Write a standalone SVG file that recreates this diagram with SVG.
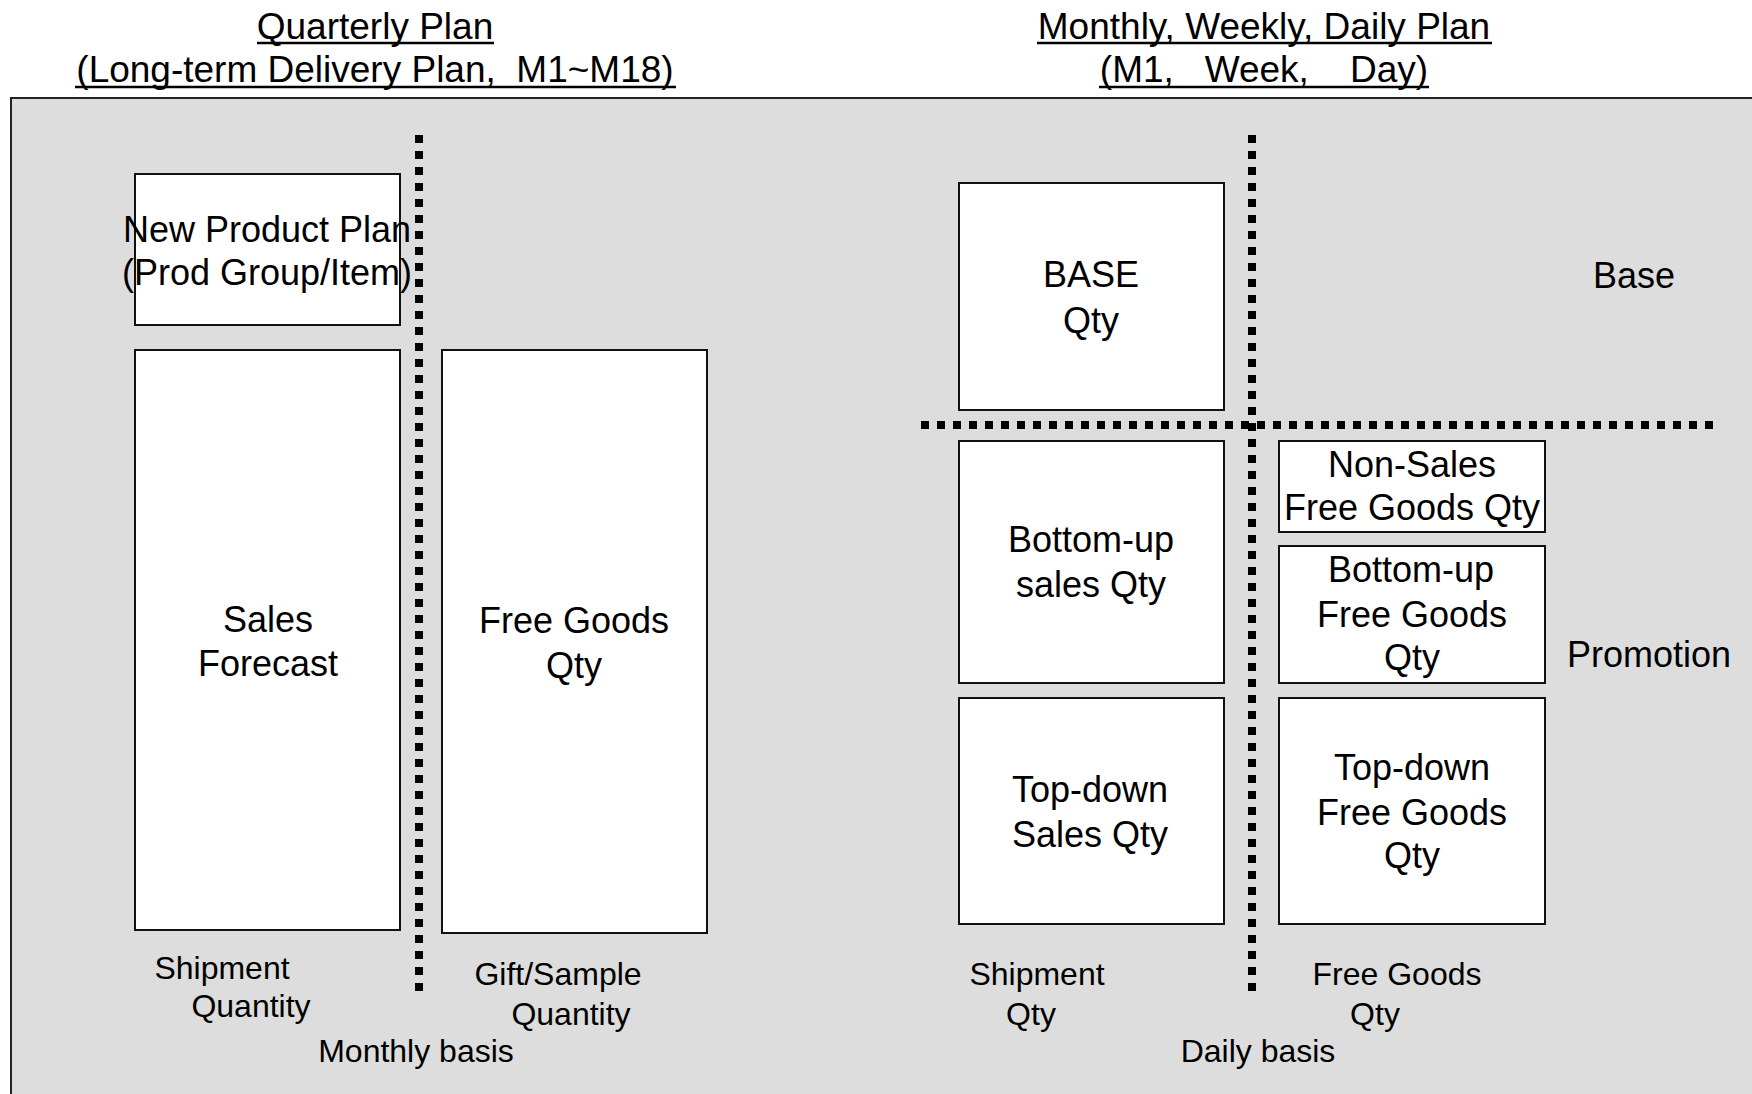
<svg xmlns="http://www.w3.org/2000/svg" width="1752" height="1094" viewBox="0 0 1752 1094">
<style>
text{font-family:"Liberation Sans",Arial,sans-serif;fill:#000;text-anchor:middle;white-space:pre}
.t{font-size:37px}
.u{stroke:#000;stroke-width:2.5}
.b{font-size:36px}
.s{font-size:32px}
.box{fill:#fff;stroke:#111;stroke-width:2}
.dot{stroke:#000;stroke-width:8;stroke-dasharray:8 8;fill:none}
</style>
<rect width="1752" height="1094" fill="#fff"/>
<g id="titles">
<text class="t" x="375" y="39">Quarterly Plan</text>
<text class="t" x="375" y="82">(Long-term Delivery Plan,  M1~M18)</text>
<text class="t" x="1264" y="39">Monthly, Weekly, Daily Plan</text>
<text class="t" x="1264" y="82">(M1,   Week,    Day)</text>
<line class="u" x1="257" y1="43" x2="494" y2="43"/>
<line class="u" x1="75" y1="87" x2="676" y2="87"/>
<line class="u" x1="1037" y1="43" x2="1492" y2="43"/>
<line class="u" x1="1099" y1="87" x2="1429" y2="87"/>
</g>
<rect id="panel" x="11" y="98" width="1760" height="1010" fill="#dddddd" stroke="#222" stroke-width="2"/>
<g id="connectors">
<line class="dot" x1="419" y1="135" x2="419" y2="995"/>
<line class="dot" x1="1252" y1="135" x2="1252" y2="995"/>
<line class="dot" x1="921" y1="425" x2="1717" y2="425"/>
</g>
<g id="new-product-plan">
<rect class="box" x="135" y="174" width="265" height="151"/>
<text class="b" x="267" y="242">New Product Plan</text>
<text class="b" x="267" y="285">(Prod Group/Item)</text>
</g>
<g id="sales-forecast">
<rect class="box" x="135" y="350" width="265" height="580"/>
<text class="b" x="268" y="632">Sales</text>
<text class="b" x="268" y="676">Forecast</text>
</g>
<g id="free-goods-qty">
<rect class="box" x="442" y="350" width="265" height="583"/>
<text class="b" x="574" y="633">Free Goods</text>
<text class="b" x="574" y="678">Qty</text>
</g>
<g id="base-qty">
<rect class="box" x="959" y="183" width="265" height="227"/>
<text class="b" x="1091" y="287">BASE</text>
<text class="b" x="1091" y="333">Qty</text>
</g>
<g id="bottom-up-sales">
<rect class="box" x="959" y="441" width="265" height="242"/>
<text class="b" x="1091" y="552">Bottom-up</text>
<text class="b" x="1091" y="597">sales Qty</text>
</g>
<g id="non-sales">
<rect class="box" x="1279" y="441" width="266" height="91"/>
<text class="b" x="1412" y="477">Non-Sales</text>
<text class="b" x="1412" y="520">Free Goods Qty</text>
</g>
<g id="bottom-up-free">
<rect class="box" x="1279" y="546" width="266" height="137"/>
<text class="b" x="1411" y="582">Bottom-up</text>
<text class="b" x="1412" y="627">Free Goods</text>
<text class="b" x="1412" y="670">Qty</text>
</g>
<g id="top-down-sales">
<rect class="box" x="959" y="698" width="265" height="226"/>
<text class="b" x="1090" y="802">Top-down</text>
<text class="b" x="1090" y="847">Sales Qty</text>
</g>
<g id="top-down-free">
<rect class="box" x="1279" y="698" width="266" height="226"/>
<text class="b" x="1412" y="780">Top-down</text>
<text class="b" x="1412" y="825">Free Goods</text>
<text class="b" x="1412" y="868">Qty</text>
</g>
<g id="labels">
<text class="b" x="1634" y="288">Base</text>
<text class="b" x="1649" y="667">Promotion</text>
<text class="s" x="222" y="979">Shipment</text>
<text class="s" x="251" y="1017">Quantity</text>
<text class="s" x="558" y="985">Gift/Sample</text>
<text class="s" x="571" y="1025">Quantity</text>
<text class="s" x="416" y="1062">Monthly basis</text>
<text class="s" x="1037" y="985">Shipment</text>
<text class="s" x="1031" y="1025">Qty</text>
<text class="s" x="1397" y="985">Free Goods</text>
<text class="s" x="1375" y="1025">Qty</text>
<text class="s" x="1258" y="1062">Daily basis</text>
</g>
</svg>
